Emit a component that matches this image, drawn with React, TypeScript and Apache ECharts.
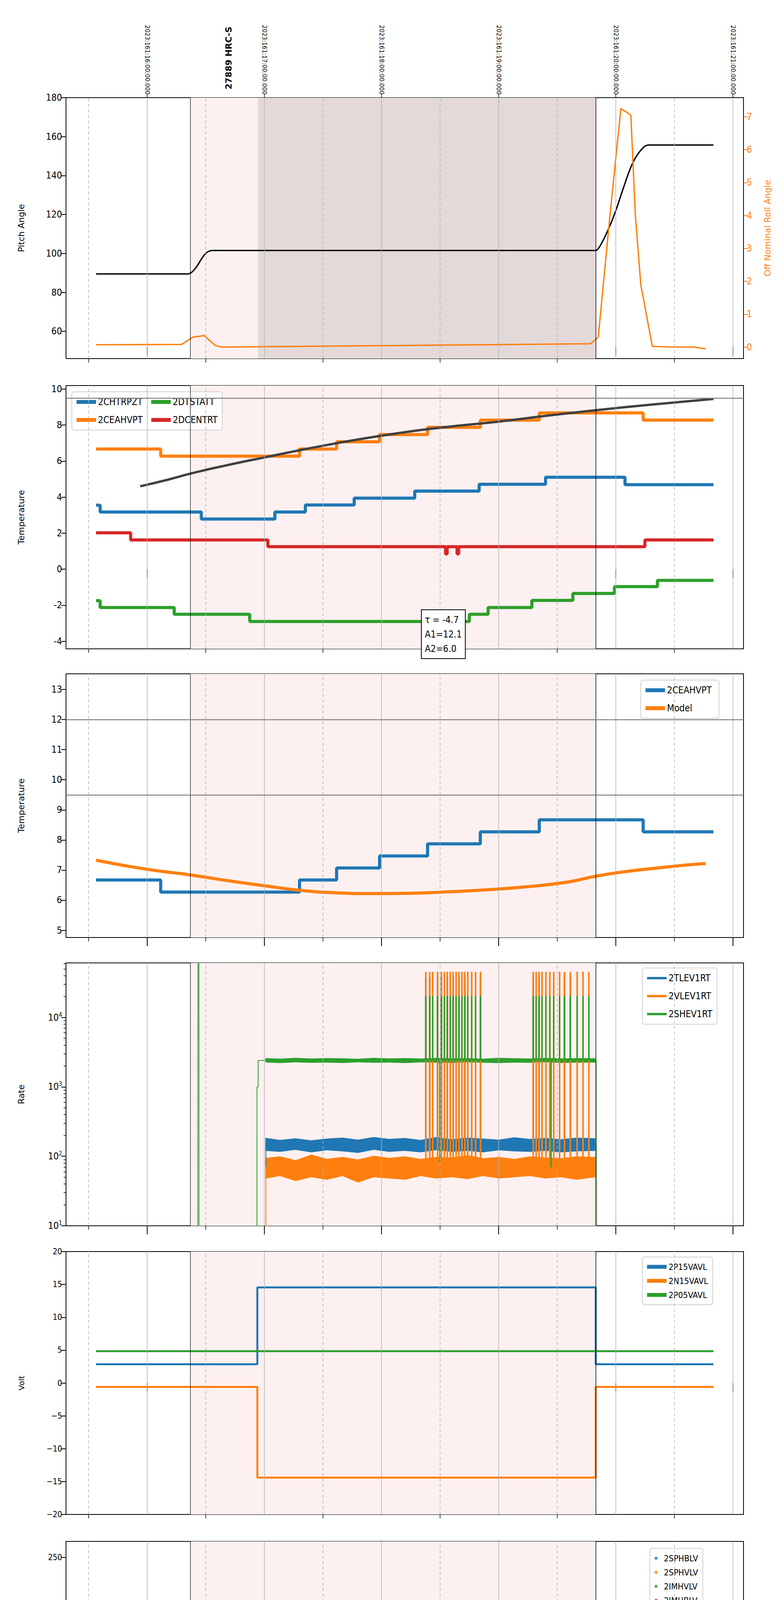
import React, { useEffect, useRef } from 'react';
import * as echarts from 'echarts';

// time axis: minutes after 11:00 local (2023-06-10)
const T_MIN = 18.4;
const T_MAX = 365.4;
const HOURS = [60, 120, 180, 240, 300, 360];
const HALVES = [30, 90, 150, 210, 270, 330];
const OBS_START = 82;
const OBS_END = 289.7;
const GRAY_START = 116.7;
const TOP_LABELS = ['2023:161:16:00:00.000', '2023:161:17:00:00.000', '2023:161:18:00:00.000', '2023:161:19:00:00.000', '2023:161:20:00:00.000', '2023:161:21:00:00.000'];

// burst times (minutes) where detector / FEA / rate channels toggle
const spikesA = [202.5, 204.5, 206, 208.5, 210.5, 212, 213.5, 215, 216.5, 218, 219.5, 221, 222.5, 224, 226, 228, 230.5];
const spikesB = [257.5, 259, 260.5, 262, 264, 266, 268, 271, 273.5, 276.5, 280, 283, 286];

// panel 1
const pitch: [number, number][] = [[33.8, 89.5], [80.7, 89.5], [83, 90.5], [85.5, 93.5], [88, 97.5], [90.5, 100.5], [93.6, 101.5], [289.7, 101.5], [292, 104], [296, 112], [300, 122], [304, 134], [308, 145], [312, 152], [316.6, 155.7], [350, 155.7]];
const roll: [number, number][] = [[33.8, 0.07], [77.6, 0.08], [83.3, 0.3], [89.2, 0.35], [94.8, 0.05], [98, 0.0], [287, 0.1], [291, 0.3], [297, 4.0], [302.6, 7.25], [307.7, 7.05], [310, 4.0], [312.8, 1.9], [318.7, 0.02], [330, 0.0], [340, 0.0], [346, -0.05]];

// panel 2
const chtrpzt: [number, number][] = [[33.8, 3.55], [35.9, 3.17], [87.7, 2.78], [125.4, 3.17], [141, 3.56], [166, 3.94], [197, 4.33], [230, 4.71], [264, 5.1], [304.7, 4.69], [350, 4.69]];
const ceahvpt: [number, number][] = [[33.8, 6.67], [66.9, 6.27], [138, 6.67], [157, 7.07], [179, 7.47], [203.6, 7.87], [230.6, 8.27], [260.8, 8.67], [314, 8.27], [350, 8.27]];
const dtstatt: [number, number][] = [[33.8, -1.75], [35.9, -2.13], [73.8, -2.5], [112.5, -2.9], [225, -2.5], [234.6, -2.13], [257, -1.73], [278, -1.35], [299.3, -0.97], [321.3, -0.62], [350, -0.62]];
const dcentrt: [number, number][] = [[33.8, 2.02], [51.5, 1.62], [121.8, 1.25], [212.8, 0.85], [213.6, 1.25], [218.7, 0.85], [219.5, 1.25], [314.9, 1.62], [350, 1.62]];
const fitLine: [number, number][] = [[56.4, 4.6], [70, 4.95], [82, 5.3], [100, 5.75], [120, 6.2], [150, 6.85], [179.5, 7.4], [210, 7.85], [241, 8.2], [265, 8.52], [289.7, 8.82], [320, 9.15], [350, 9.45]];

// panel 3
const model: [number, number][] = [[33.8, 7.33], [50, 7.13], [65, 6.98], [82, 6.84], [100, 6.66], [120, 6.48], [138, 6.33], [155, 6.25], [175, 6.22], [195, 6.23], [215, 6.28], [235, 6.35], [255, 6.45], [275, 6.6], [290, 6.8], [305, 6.95], [320, 7.06], [335, 7.16], [346, 7.22]];

// panel 4 (rates): noise envelopes + baselines, counts/s
const bandTimes = [120.5, 128, 136, 144, 152, 160, 168, 176, 184, 192, 200, 208, 216, 224, 232, 240, 248, 256, 264, 272, 280, 289.5];
const tlevUpper = [185, 172, 182, 170, 180, 186, 174, 190, 178, 184, 172, 190, 176, 186, 180, 174, 188, 178, 184, 176, 186, 182];
const tlevLower = [120, 116, 124, 114, 122, 118, 112, 124, 116, 120, 114, 122, 116, 120, 114, 122, 118, 116, 120, 114, 118, 120];
const vlevUpper = [95, 100, 88, 106, 92, 98, 90, 102, 95, 100, 92, 98, 96, 104, 94, 98, 92, 100, 96, 94, 100, 98];
const vlevLower = [48, 52, 44, 50, 46, 52, 42, 50, 48, 46, 52, 48, 50, 47, 52, 48, 50, 52, 48, 50, 46, 50];
const shevUpper = [2600, 2550, 2620, 2560, 2600, 2580, 2540, 2620, 2570, 2600, 2560, 2610, 2580, 2600, 2550, 2620, 2590, 2560, 2610, 2570, 2600, 2580];
const shevLower = [2250, 2200, 2260, 2220, 2240, 2210, 2260, 2220, 2240, 2200, 2250, 2230, 2210, 2250, 2230, 2200, 2240, 2220, 2250, 2210, 2230, 2240];
const tlevBase: [number, number][] = [[120.3, 5], [120.8, 150], [289.7, 150], [289.9, 5]];
const vlevBase: [number, number][] = [[120.3, 5], [120.8, 70], [289.7, 70], [289.9, 5]];
const shevBase: [number, number][] = [[85.9, 5], [86, 70000], [86.5, 5], [115.5, 5], [116.2, 1000], [116.8, 2400], [209.7, 85], [210, 2400], [266.7, 70], [267, 2400], [289.7, 2400], [289.9, 5]];
const RATE_MIN = 10;
const RATE_MAX = 61000;
const RATE_DECADES = [10, 100, 1000, 10000];
const RATE_MINOR = [20, 30, 40, 50, 60, 70, 80, 90, 200, 300, 400, 500, 600, 700, 800, 900, 2000, 3000, 4000, 5000, 6000, 7000, 8000, 9000, 20000, 30000, 40000, 50000, 60000];

// panel 5
const p15: [number, number][] = [[33.8, 2.85], [116.4, 14.55], [289.7, 2.85], [350, 2.85]];
const n15: [number, number][] = [[33.8, -0.6], [116.4, -14.4], [289.7, -0.6], [350, -0.6]];
const p05: [number, number][] = [[33.8, 4.85], [350, 4.85]];

// panel 6
const sphblvRamp: [number, number][] = [[117.9, 117], [118.1, 102], [118.4, 101], [118.8, 97], [119.5, 92], [120.2, 87], [120.9, 82], [121.5, 79]];
const sphvlvRamp: [number, number][] = [[117.6, 127], [117.7, 124], [118.2, 96], [118.8, 90], [119.2, 85], [119.8, 84], [120.3, 80], [120.8, 75], [121.3, 72]];
const sphvlvHigh = [201.3, 206.9, 207.9, 209.7, 211.5, 212.5, 215.4, 253.8, 254.6, 257.7, 259, 260, 264.6, 269.5, 271.8];
const HV_FLAT_B = 78;
const HV_FLAT_V = 71;

// panel 7
const spina: [number, number][] = [[116.9, 3.68], [248.8, 4.15], [289.7, 4.15]];
const sphvatm: [number, number][] = [[116.4, 15.57], [126.2, 15.85], [131.3, 16.13], [135.9, 16.4], [140.5, 16.7], [145.7, 17.0], [151.3, 17.27], [157.7, 17.55], [165.4, 17.85], [173.8, 18.13], [184.1, 18.4], [194.9, 18.7], [214, 19.0], [224, 19.3], [238.5, 19.6], [257, 19.85], [284.6, 20.15], [289.7, 20.15]];
const iminatm: [number, number][] = [[117, 2.8], [157.7, 2.37], [289.7, 2.37]];
const imhvatm: [number, number][] = [[115.9, -5], [116, 15.0], [126, 14.72], [138.5, 15.0], [168.2, 15.3], [192.3, 15.55], [215.4, 15.85], [238.5, 16.1], [264.3, 16.4], [290, 30], [290.5, -5]];

// panel 8
const fhtrmzt: [number, number][] = [[33.8, -6.0], [55.1, -6.4], [82.6, -6.8], [115.9, -7.2], [123.8, -6.8], [137.2, -6.4], [146.7, -6.0], [155.9, -5.6], [165.7, -5.2], [175.1, -4.8], [184.6, -4.4], [194.9, -4.04], [207.7, -3.66], [216, -3.29], [226.9, -2.88], [238.5, -2.51], [249.6, -2.12], [259, -1.74], [274.4, -1.36], [286.7, -0.99], [315.3, -1.36], [341, -1.74], [350, -1.74]];
const fradpyt: [number, number][] = [[33.8, -8.8], [46.1, -9.23], [76.1, -9.8], [130, -9.25], [139.2, -8.8], [148.2, -8.38], [157.9, -7.97], [167.4, -7.57], [177.4, -7.15], [188.4, -6.78], [198.7, -6.38], [210.3, -6.0], [222.3, -5.6], [234.6, -5.2], [246.7, -4.8], [260.3, -4.45], [271.8, -4.05], [286.7, -3.66], [304.7, -4.05], [350, -4.05]];
const fepratm: [number, number][] = [[116.9, -5.85], [117.9, -5.45], [121.3, -5.05], [124.4, -4.6], [127.7, -4.2], [132.1, -3.8], [138.5, -3.4], [144.8, -3.0], [153.3, -2.6], [162.3, -2.2], [171.8, -1.8], [182, -1.4], [192.3, -1.0], [202.6, -0.6], [215, -0.2], [227.7, 0.25], [239.8, 0.65], [253.9, 1.1], [266.7, 1.5], [282.1, 1.9], [287.7, 1.9]];
const fe00atm: [number, number][] = [[116.1, -12], [116.2, -4.85], [123.1, -4.5], [131.3, -4.15], [137.7, -3.8], [144.1, -3.5], [151.3, -3.1], [158, -2.8], [164.9, -2.45], [172.3, -2.1], [180, -1.8], [187.7, -1.45], [196.9, -1.1], [203.8, -0.8], [212, -0.5], [220, -0.15], [231.7, 0.2], [239.3, 0.5], [249.6, 0.85], [257.3, 1.1], [270.1, 1.45], [277.8, 1.75], [290.3, 1.75]];

const C = ['#1f77b4', '#ff7f0e', '#2ca02c', '#d62728'];
const NARROW = "'Liberation Sans Narrow', 'DejaVu Sans Condensed', sans-serif";
const WIDE = "'DejaVu Sans', sans-serif";

const GRIDS = [
  { top: 250, height: 668 },
  { top: 987, height: 674 },
  { top: 1725, height: 675 },
  { top: 2465, height: 673 },
  { top: 3204, height: 673 },
  { top: 3946, height: 674 },
  { top: 4681, height: 674 },
  { top: 5421, height: 674 },
];

// value of a step series at time t
const levelAt = (steps: [number, number][], t: number) => {
  let v = steps[0][1];
  for (const [x, y] of steps) if (x <= t) v = y;
  return v;
};

const withSpikes = (steps: [number, number][], spikes: number[], to: number, w = 0.5) => {
  const pts = steps.slice();
  spikes.forEach(t => {
    pts.push([t, to]);
    pts.push([t + w, levelAt(steps, t)]);
  });
  return pts.sort((a, b) => a[0] - b[0]);
};

const lg = (pts: [number, number][]) => pts.map(([t, v]) => [t, Math.log10(v)]);

const App: React.FC = () => {
  const chartRef = useRef<HTMLDivElement>(null);

  useEffect(() => {
    document.body.style.margin = '0';
    if (!chartRef.current) return;
    const chart = echarts.init(chartRef.current, undefined, { renderer: 'svg' });

    const xAxes: any[] = [];
    const grids: any[] = [];
    GRIDS.forEach((g, i) => {
      grids.push({ left: 169, right: 96, top: g.top, height: g.height, show: true, borderColor: '#000', borderWidth: 2 });
      const last = i === GRIDS.length - 1;
      xAxes.push({
        type: 'value', gridIndex: i, min: T_MIN, max: T_MAX, position: 'bottom',
        axisLine: { show: false }, splitLine: { show: false },
        axisTick: { show: true, customValues: HOURS, length: 22, lineStyle: { color: '#000', width: 2 } },
        axisLabel: {
          show: last, customValues: HOURS, margin: 42, fontSize: 26, fontFamily: NARROW, color: '#000',
          formatter: (v: number) => `${11 + Math.round(v / 60)}h`,
        },
        name: last ? '2023-06-10 (161)' : '', nameLocation: 'middle', nameGap: 90,
        nameTextStyle: { fontSize: 30, fontFamily: NARROW, color: '#000' },
      });
      xAxes.push({
        type: 'value', gridIndex: i, min: T_MIN, max: T_MAX, position: 'bottom',
        axisLine: { show: false }, splitLine: { show: false },
        axisTick: { show: true, customValues: HALVES, length: 10, lineStyle: { color: '#000', width: 1.5 } },
        axisLabel: { show: last, customValues: HALVES, margin: 14, fontSize: 15, fontFamily: NARROW, color: '#000', formatter: () => '30' },
      });
    });
    // UT labels on top of first panel
    xAxes.push({
      type: 'value', gridIndex: 0, min: T_MIN, max: T_MAX, position: 'top',
      axisLine: { show: false }, splitLine: { show: false },
      axisTick: { show: true, customValues: HOURS, length: 10, lineStyle: { color: '#000', width: 1.5 } },
      axisLabel: {
        customValues: HOURS, rotate: 90, fontSize: 15, fontFamily: WIDE, color: '#000', margin: 8,
        formatter: (v: number) => TOP_LABELS[Math.round(v / 60) - 1],
      },
    });

    const tickStyle = { color: '#000', fontSize: 24, fontFamily: NARROW };
    const yBase = (i: number, min: number, max: number, ticks: number[] | null, name: string, fmt?: (v: number) => string) => ({
      type: 'value', gridIndex: i, min, max, name, nameLocation: 'middle', nameGap: 104, position: 'left',
      nameTextStyle: { fontSize: 22, fontFamily: WIDE, color: '#000' },
      axisLine: { show: false }, splitLine: { show: false },
      axisTick: { show: true, length: 12, lineStyle: { color: '#000', width: 2 }, ...(ticks ? { customValues: ticks } : {}) },
      axisLabel: { ...tickStyle, margin: 10, ...(ticks ? { customValues: ticks } : {}), ...(fmt ? { formatter: fmt } : {}) },
    });

    const rateLog: any = yBase(3, Math.log10(RATE_MIN), Math.log10(RATE_MAX), RATE_DECADES.map(Math.log10), 'Rate');
    rateLog.axisLabel = {
      margin: 10, customValues: RATE_DECADES.map(Math.log10),
      formatter: (v: number) => `{b|10}{s|${Math.round(v)}}`,
      rich: {
        b: { fontSize: 24, fontFamily: NARROW, color: '#000' },
        s: { fontSize: 15, fontFamily: NARROW, color: '#000', padding: [0, 0, 14, 0] },
      },
    };
    const rateMinor = {
      type: 'value', gridIndex: 3, min: Math.log10(RATE_MIN), max: Math.log10(RATE_MAX), position: 'left',
      axisLine: { show: false }, splitLine: { show: false }, axisLabel: { show: false },
      axisTick: { show: true, length: 6, customValues: RATE_MINOR.map(Math.log10), lineStyle: { color: '#000', width: 1.5 } },
    };

    const yAxes: any[] = [
      yBase(0, 46, 180, [60, 80, 100, 120, 140, 160, 180], 'Pitch Angle'),
      {
        type: 'value', gridIndex: 0, min: -0.35, max: 7.58, position: 'right', name: 'Off Nominal Roll Angle',
        nameLocation: 'middle', nameGap: 50, nameRotate: 90,
        nameTextStyle: { fontSize: 22, fontFamily: WIDE, color: C[1] },
        axisLine: { show: false }, splitLine: { show: false },
        axisTick: { show: true, length: 12, customValues: [0, 1, 2, 3, 4, 5, 6, 7], lineStyle: { color: C[1], width: 2 } },
        axisLabel: { ...tickStyle, color: C[1], customValues: [0, 1, 2, 3, 4, 5, 6, 7] },
      },
      yBase(1, -4.42, 10.19, [-4, -2, 0, 2, 4, 6, 8, 10], 'Temperature'),
      yBase(2, 4.76, 13.52, [5, 6, 7, 8, 9, 10, 11, 12, 13], 'Temperature'),
      rateLog,
      yBase(4, -20, 20, [-20, -15, -10, -5, 0, 5, 10, 15, 20], 'Volt', (v: number) => (v < 0 ? `\u2212${-v}` : `${v}`)),
      yBase(5, 0, 266, [0, 50, 100, 150, 200, 250], 'HV Monitor'),
      yBase(6, 0.86, 21.1, [2.5, 5, 7.5, 10, 12.5, 15, 17.5, 20], 'Detector Temp', (v: number) => v.toFixed(1)),
      yBase(7, -9.49, 2.13, [-8, -6, -4, -2, 0, 2], 'FEA Temp'),
      rateMinor,
    ];
    // smaller label font for volt / HV panels
    [5, 6].forEach(k => { yAxes[k].axisLabel.fontSize = 21; yAxes[k].nameTextStyle.fontSize = 20; });
    const yIdx = [0, 2, 3, 4, 5, 6, 7, 8];

    const series: any[] = [];
    // background: shading and vertical grid lines
    GRIDS.forEach((_, i) => {
      const areas: any[] = [[{ xAxis: OBS_START, itemStyle: { color: '#fdf0f0' } }, { xAxis: OBS_END }]];
      if (i === 0) areas.push([{ xAxis: GRAY_START, itemStyle: { color: '#e3d9d9' } }, { xAxis: OBS_END }]);
      const lines: any[] = [
        ...HOURS.map(x => ({ xAxis: x, lineStyle: { color: '#b0b0b0', width: 1.5, type: 'solid' } })),
        ...HALVES.map(x => ({ xAxis: x, lineStyle: { color: '#b0b0b0', width: 1.5, type: [8, 6] } })),
        { xAxis: OBS_START, lineStyle: { color: '#000', width: 1.2, type: 'solid' } },
        { xAxis: OBS_END, lineStyle: { color: '#000', width: 1.5, type: 'solid' } },
      ];
      if (i === 1) lines.push({ yAxis: 9.5, lineStyle: { color: '#808080', width: 2.5, type: 'solid' } });
      if (i === 2) {
        lines.push({ yAxis: 12, lineStyle: { color: '#808080', width: 2.5, type: 'solid' } });
        lines.push({ yAxis: 9.5, lineStyle: { color: '#808080', width: 2.5, type: 'solid' } });
      }
      series.push({
        type: 'line', xAxisIndex: i * 2, yAxisIndex: yIdx[i], data: [], silent: true, z: 0,
        markArea: { silent: true, data: areas },
        markLine: { silent: true, symbol: 'none', label: { show: false }, data: lines },
      });
    });

    const line = (name: string, g: number, data: any[], color: string, width: number, step: any = 'end', extra: any = {}) => ({
      name, type: 'line', xAxisIndex: g * 2, yAxisIndex: yIdx[g], data, step, showSymbol: false, symbol: 'none',
      lineStyle: { color, width }, itemStyle: { color }, z: 3, ...extra,
    });

    // panel 1
    series.push(line('Pitch', 0, pitch, '#000', 3.5, false, { smooth: 0.3 }));
    series.push({ ...line('Roll', 0, roll, C[1], 3.5, false), yAxisIndex: 1 });
    // panel 2
    series.push(line('2CHTRPZT', 1, chtrpzt, C[0], 8));
    series.push(line('2CEAHVPT', 1, ceahvpt, C[1], 8));
    series.push(line('2DTSTATT', 1, dtstatt, C[2], 8));
    series.push(line('2DCENTRT', 1, dcentrt, C[3], 8));
    series.push(line('fit', 1, fitLine, '#404040', 6, false, { smooth: true }));
    // panel 3
    series.push(line('2CEAHVPT ', 2, ceahvpt, C[0], 8));
    series.push(line('Model', 2, model, C[1], 8, false, { smooth: true }));
    // panel 4 (log10 of rate on a linear axis)
    const band = (name: string, color: string, upper: number[], lower: number[]) => ({
      name, type: 'custom', xAxisIndex: 6, yAxisIndex: 4, data: [[0]], z: 2, silent: true,
      itemStyle: { color },
      renderItem: (_p: any, api: any) => {
        const top = bandTimes.map((t, k) => api.coord([t, Math.log10(upper[k])]));
        const bot = bandTimes.map((t, k) => api.coord([t, Math.log10(lower[k])])).reverse();
        return { type: 'polygon', shape: { points: top.concat(bot) }, style: { fill: color } };
      },
    });
    const both = spikesA.concat(spikesB);
    series.push(line('2TLEV1RT', 3, lg(withSpikes(tlevBase, both, 38000, 0.4)), C[0], 2));
    series.push(line('2VLEV1RT', 3, lg(withSpikes(vlevBase, both, 45000, 0.4)), C[1], 2));
    series.push(line('2SHEV1RT', 3, lg(withSpikes(shevBase, both, 20000, 0.35)), C[2], 2));
    series.push(band('2TLEV1RT', C[0], tlevUpper, tlevLower));
    series.push(band('2VLEV1RT', C[1], vlevUpper, vlevLower));
    series.push(band('2SHEV1RT', C[2], shevUpper, shevLower));
    // panel 5
    series.push(line('2P15VAVL', 4, p15, C[0], 5));
    series.push(line('2N15VAVL', 4, n15, C[1], 5));
    series.push(line('2P05VAVL', 4, p05, C[2], 5));
    // panel 6
    const flat = (v: number) => {
      const pts: [number, number][] = [];
      for (let t = 121.5; t <= OBS_END; t += 0.6) pts.push([t, v]);
      return pts;
    };
    const scatter = (name: string, data: any[], color: string) => ({
      name, type: 'scatter', xAxisIndex: 10, yAxisIndex: 6, data, symbolSize: 8, itemStyle: { color }, z: 3,
    });
    series.push(scatter('2SPHBLV', sphblvRamp.concat(flat(HV_FLAT_B)), C[0]));
    series.push(scatter('2SPHVLV', sphvlvRamp.concat(flat(HV_FLAT_V), sphvlvHigh.map(t => [t, 127] as [number, number])), C[1]));
    series.push(scatter('2IMHVLV', [], C[2]));
    series.push(scatter('2IMHBLV', [], C[3]));
    // panel 7
    series.push(line('2SPINATM', 6, withSpikes(spina, both, -2, 0.6), C[0], 8));
    series.push(line('2SPHVATM', 6, withSpikes(withSpikes(sphvatm, spikesA, 10.6, 0.6), spikesB, 11.2, 0.6).concat([[266.7, -2], [267, 19.85]]).sort((a, b) => a[0] - b[0]), C[1], 8));
    series.push(line('2IMINATM', 6, withSpikes(withSpikes(iminatm, spikesA, 3.75, 0.6), spikesB, 4.2, 0.6), C[2], 8));
    series.push(line('2IMHVATM', 6, withSpikes(withSpikes(imhvatm, spikesA, 19.0, 0.6), spikesB, 19.9, 0.6), C[3], 8));
    // panel 8
    series.push(line('2FHTRMZT', 7, fhtrmzt, C[0], 8));
    series.push(line('2FRADPYT', 7, fradpyt, C[1], 8));
    series.push(line('2FEPRATM', 7, withSpikes(fepratm, both, -4.65, 0.6), C[2], 8));
    series.push(line('2FE00ATM', 7, withSpikes(fe00atm, both.concat([209.7, 266]), 3, 0.5).concat([[290.3, -12]]), C[3], 8));

    const legendBox = {
      backgroundColor: 'rgba(255,255,255,0.85)', borderColor: '#d0d0d0', borderWidth: 2, borderRadius: 6,
      padding: [14, 12], itemWidth: 50, itemHeight: 10, itemGap: 22,
      textStyle: { fontSize: 24, fontFamily: NARROW, color: '#000' },
    };
    const legend = [
      { ...legendBox, data: ['2CHTRPZT', '2DTSTATT', '2CEAHVPT', '2DCENTRT'], left: 184, top: 1003, width: 500, orient: 'horizontal' },
      { ...legendBox, data: ['2CEAHVPT ', 'Model'], left: 1641, top: 1741, orient: 'vertical' },
      { ...legendBox, data: ['2TLEV1RT', '2VLEV1RT', '2SHEV1RT'], left: 1645, top: 2478, orient: 'vertical', itemHeight: 6 },
      { ...legendBox, data: ['2P15VAVL', '2N15VAVL', '2P05VAVL'], left: 1645, top: 3218, orient: 'vertical', itemGap: 14, textStyle: { ...legendBox.textStyle, fontSize: 22 } },
      { ...legendBox, data: ['2SPHBLV', '2SPHVLV', '2IMHVLV', '2IMHBLV'], left: 1664, top: 3964, orient: 'vertical', itemGap: 14, itemWidth: 30, icon: 'circle', itemHeight: 8, textStyle: { ...legendBox.textStyle, fontSize: 22 } },
      { ...legendBox, data: ['2SPINATM', '2SPHVATM', '2IMINATM', '2IMHVATM'], left: 1641, top: 4696, orient: 'vertical' },
      { ...legendBox, data: ['2FHTRMZT', '2FRADPYT', '2FEPRATM', '2FE00ATM'], left: 183, top: 5435, orient: 'vertical' },
    ].map(l => ({ ...l, icon: l.icon || 'rect', selectedMode: false }));

    chart.setOption({
      animation: false,
      grid: grids,
      xAxis: xAxes,
      yAxis: yAxes,
      legend,
      series,
      graphic: [
        {
          type: 'text', x: 585, y: 229, rotation: Math.PI / 2,
          style: { text: '27889 HRC-S', fontSize: 22, fontWeight: 'bold', fontFamily: WIDE, fill: '#000', textAlign: 'left', textVerticalAlign: 'middle' },
        },
        {
          type: 'text', x: 1080, y: 1562, z: 100,
          style: {
            text: '\u03c4 = -4.7\nA1=12.1\nA2=6.0', fontSize: 24, fontFamily: NARROW, fill: '#000', lineHeight: 37,
            backgroundColor: '#fff', borderColor: '#000', borderWidth: 2, padding: [6, 8],
          },
        },
      ],
    });

    return () => {
      chart.dispose();
    };
  }, []);

  return <div ref={chartRef} style={{ width: '2000px', height: '6200px' }} />;
};

export default App;
